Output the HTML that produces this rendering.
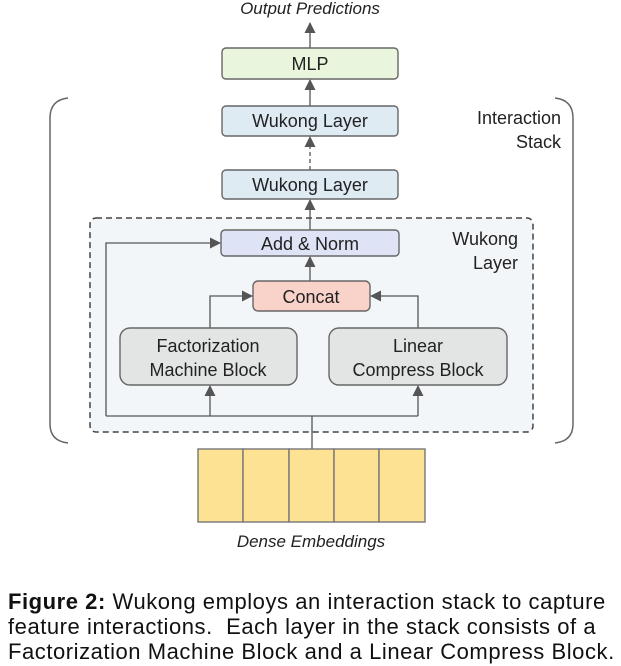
<!DOCTYPE html>
<html><head><meta charset="utf-8"><style>
body{margin:0;background:#fff;width:621px;height:666px;overflow:hidden}
.cap{position:absolute;left:8px;top:589px;width:615px;font:22px/25px "Liberation Sans",sans-serif;color:#111;letter-spacing:0.55px;white-space:nowrap}
</style></head><body>
<svg width="621" height="580" style="position:absolute;left:0;top:0" font-family="Liberation Sans, sans-serif">
<defs><marker id="a" markerWidth="11" markerHeight="11" refX="10" refY="5.5" orient="auto" markerUnits="userSpaceOnUse"><path d="M0,0 L11,5.5 L0,11z" fill="#555"/></marker></defs>
<g fill="none" stroke="#666" stroke-width="1.5">
<path d="M68,98 Q50,100 50,118 L50,424 Q50,441 68,443"/>
<path d="M555,98 Q573,100 573,118 L573,424 Q573,441 555,443"/>
</g>
<rect x="90" y="218" width="443" height="214" rx="6" fill="#f3f6f9" stroke="#444" stroke-width="1.5" stroke-dasharray="6,4"/>
<g stroke="#555" stroke-width="1.3" fill="none">
<line x1="310" y1="48" x2="310" y2="23" marker-end="url(#a)"/>
<line x1="310" y1="106" x2="310" y2="80" marker-end="url(#a)"/>
<line x1="310" y1="170" x2="310" y2="137" stroke-dasharray="4,3" marker-end="url(#a)"/>
<line x1="310" y1="230" x2="310" y2="200" marker-end="url(#a)"/>
<line x1="310" y1="281" x2="310" y2="257" marker-end="url(#a)"/>
<polyline points="312,449 312,416"/>
<polyline points="106,416 418,416"/>
<polyline points="106,416 106,243 220,243" marker-end="url(#a)"/>
<line x1="210" y1="416" x2="210" y2="386" marker-end="url(#a)"/>
<line x1="418" y1="416" x2="418" y2="386" marker-end="url(#a)"/>
<polyline points="210,328 210,296 252,296" marker-end="url(#a)"/>
<polyline points="418,328 418,296 371,296" marker-end="url(#a)"/>
</g>
<g stroke="#666" stroke-width="1.4">
<rect x="222" y="48" width="176" height="31" rx="4" fill="#e9f5dc"/>
<rect x="222" y="106" width="176" height="30" rx="4" fill="#deebf3"/>
<rect x="222" y="170" width="176" height="29" rx="4" fill="#deebf3"/>
<rect x="221" y="230" width="178" height="26" rx="4" fill="#dee4f5"/>
<rect x="253" y="281" width="117" height="30" rx="5" fill="#f9d3c9"/>
<rect x="120" y="328" width="177" height="57" rx="10" fill="#e3e4e4"/>
<rect x="329" y="328" width="178" height="57" rx="10" fill="#e3e4e4"/>
<g fill="#fde293" stroke="#777"><rect x="198" y="449" width="45" height="73"/><rect x="243" y="449" width="46" height="73"/><rect x="289" y="449" width="45" height="73"/><rect x="334" y="449" width="45" height="73"/><rect x="379" y="449" width="46" height="73"/></g>
</g>
<g fill="#222" font-size="18" text-anchor="middle">
<text x="310" y="14" font-style="italic" font-size="17">Output Predictions</text>
<text x="310" y="70">MLP</text>
<text x="310" y="127">Wukong Layer</text>
<text x="310" y="191">Wukong Layer</text>
<text x="310" y="250">Add &amp; Norm</text>
<text x="311" y="303">Concat</text>
<text x="208" y="352">Factorization</text>
<text x="208" y="376">Machine Block</text>
<text x="418" y="352">Linear</text>
<text x="418" y="376">Compress Block</text>
<text x="311" y="547" font-style="italic" font-size="17">Dense Embeddings</text>
<g text-anchor="end"><text x="561" y="124">Interaction</text><text x="561" y="148">Stack</text>
<text x="518" y="245">Wukong</text><text x="518" y="269">Layer</text></g>
</g>
</svg>
<div class="cap"><b>Figure 2:</b> Wukong employs an interaction stack to capture<br>feature interactions.&nbsp; Each layer in the stack consists of a<br>Factorization Machine Block and a Linear Compress Block.</div>
</body></html>
